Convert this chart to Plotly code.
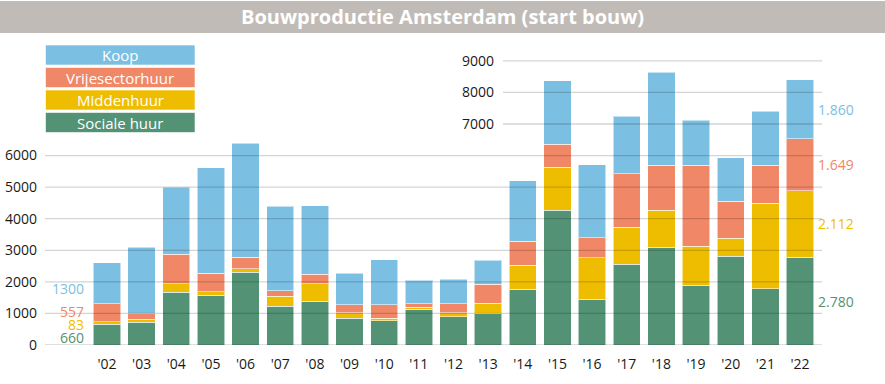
import plotly.graph_objects as go

years = ["'02", "'03", "'04", "'05", "'06", "'07", "'08", "'09", "'10", "'11", "'12",
         "'13", "'14", "'15", "'16", "'17", "'18", "'19", "'20", "'21", "'22"]
sociale_huur = [660, 728, 1677, 1582, 2309, 1234, 1381, 852, 775, 1133, 890,
                993, 1768, 4267, 1451, 2552, 3092, 1895, 2806, 1779, 2780]
middenhuur = [83, 84, 263, 105, 106, 306, 559, 173, 73, 62, 138,
              322, 752, 1366, 1313, 1175, 1175, 1239, 572, 2711, 2112]
vrijesectorhuur = [557, 179, 939, 580, 358, 179, 296, 245, 422, 107, 272,
                   612, 773, 720, 635, 1705, 1419, 2552, 1175, 1196, 1649]
koop = [1300, 2100, 2115, 3350, 3610, 2675, 2168, 996, 1435, 743, 785,
        761, 1906, 2023, 2308, 1821, 2954, 1440, 1377, 1726, 1860]

grid_low = [0, 1000, 2000, 3000, 4000, 5000, 6000]
grid_high = [7000, 8000, 9000]

series = [
    ("Sociale huur", sociale_huur, "#539274"),
    ("Middenhuur", middenhuur, "#efbd00"),
    ("Vrijesectorhuur", vrijesectorhuur, "#f08767"),
    ("Koop", koop, "#7bbfe2"),
]

W, H = 885, 384
ML, MR, MT, MB = 45, 63, 50, 39
PW, PH = W - ML - MR, H - MT - MB
PX_PER_1000 = 31.57
YMAX = PH / PX_PER_1000 * 1000


def px(xp):
    return (xp - ML) / PW


def py(yp):
    return (H - MB - yp) / PH


FONT = "Open Sans"
fig = go.Figure()
for name, vals, col in series:
    fig.add_trace(go.Bar(
        x=years, y=vals, name=name, marker_color=col,
        marker_line=dict(color="rgba(255,255,255,0.55)", width=1),
        showlegend=False, hoverinfo="x+y+name",
    ))

shapes = []
# title bar
shapes.append(dict(type="rect", xref="paper", yref="paper", x0=px(0), x1=px(W),
                   y0=py(33), y1=py(1), fillcolor="#c1bbb7", line_width=0, layer="below"))
# gridlines (above bars)
for g in grid_low:
    shapes.append(dict(type="line", xref="paper", yref="y", x0=0, x1=1, y0=g, y1=g,
                       line=dict(color="rgba(0,0,0,0.17)", width=1.3), layer="above"))
for g in grid_high:
    shapes.append(dict(type="line", xref="paper", yref="y", x0=px(503), x1=1, y0=g, y1=g,
                       line=dict(color="rgba(0,0,0,0.17)", width=1.3), layer="above"))

annotations = [dict(text="<b>Bouwproductie Amsterdam (start bouw)</b>", xref="paper", yref="paper",
                    x=px(W / 2), y=py(17), xanchor="center", yanchor="middle", showarrow=False,
                    font=dict(family=FONT, size=20, color="white"))]

# custom legend boxes
legend_top = 45
for i, (name, vals, col) in enumerate(reversed(series)):
    y0 = legend_top + i * 22.5
    shapes.append(dict(type="rect", xref="paper", yref="paper", x0=px(45.5), x1=px(195),
                       y0=py(y0 + 20), y1=py(y0), fillcolor=col,
                       line=dict(color="rgba(255,255,255,0.6)", width=1)))
    annotations.append(dict(text=name, xref="paper", yref="paper", x=px(120), y=py(y0 + 10),
                            xanchor="center", yanchor="middle", showarrow=False,
                            font=dict(family=FONT, size=15, color="white")))

# labels for first year (left)
left_pos = [253, 665, 1077, 1774]
for (name, vals, col), yv in zip(series, left_pos):
    annotations.append(dict(text=str(vals[0]), xref="paper", yref="y", x=px(86), y=yv,
                            xanchor="right", yanchor="middle", showarrow=False,
                            font=dict(family=FONT, size=14, color=col)))

# labels for last year (right), at segment midpoints
base = 0
for name, vals, col in series:
    v = vals[-1]
    mid = base + v / 2
    base += v
    txt = f"{v:,}".replace(",", ".")
    annotations.append(dict(text=txt, xref="paper", yref="y", x=px(816), y=mid,
                            xanchor="left", yanchor="middle", showarrow=False,
                            font=dict(family=FONT, size=14, color=col)))

fig.update_layout(
    width=W, height=H, margin=dict(l=ML, r=MR, t=MT, b=MB, pad=0, autoexpand=False),
    barmode="stack", bargap=0.212,
    plot_bgcolor="white", paper_bgcolor="white",
    font=dict(family=FONT, size=14, color="#1a1a1a"),
    xaxis=dict(range=[-1.789, 20.635], showgrid=False, zeroline=False, showline=False,
               automargin=False,
               ticks="", tickfont=dict(size=14, color="#1a1a1a"), ticklabelstandoff=9),
    yaxis=dict(range=[0, YMAX], tickvals=grid_low, showgrid=False, zeroline=False,
               showline=False, ticks="", tickfont=dict(size=14, color="#1a1a1a"),
               automargin=False, ticklabelstandoff=7),
    yaxis2=dict(range=[0, YMAX], overlaying="y", anchor="free", position=px(503), side="left",
                tickvals=grid_high, showgrid=False, zeroline=False, showline=False, ticks="",
                automargin=False,
                tickfont=dict(size=14, color="#1a1a1a"), ticklabelstandoff=9),
    shapes=shapes, annotations=annotations,
)
fig.add_trace(go.Scatter(x=[], y=[], yaxis="y2", showlegend=False))

fig.write_html("out.html", config={"displayModeBar": False},
               post_script="document.body.style.margin='0';document.body.style.overflow='hidden';")
